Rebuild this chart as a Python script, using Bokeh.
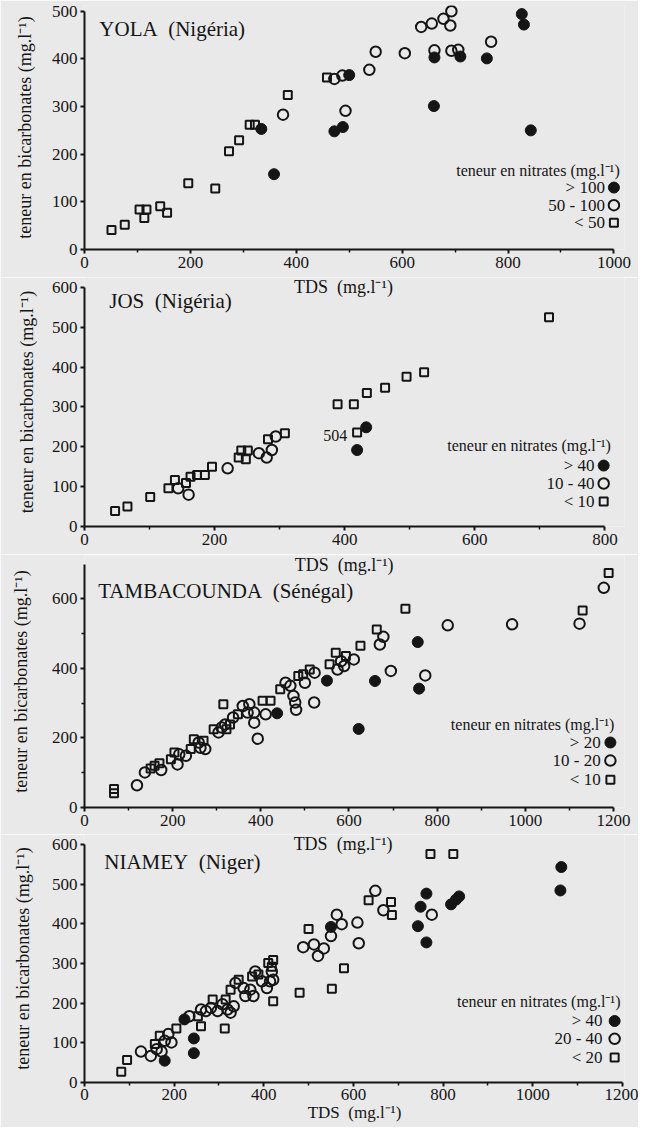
from bokeh.plotting import figure
from bokeh.layouts import column
from bokeh.models import Range1d, FixedTicker, Label
from bokeh.embed import file_html
from bokeh.resources import INLINE

FONT = "Liberation Serif"
BG = "#e9e9e9"
INK = "#151515"

# ---------------- DATA ----------------
# YOLA (Nigeria) : TDS (x) vs bicarbonates (y), by nitrate class
yola_hi_x = [334, 358, 472, 488, 500, 660, 661, 710, 760, 826, 830, 843]
yola_hi_y = [253, 158, 248, 257, 366, 301, 403, 405, 401, 494, 472, 250]
yola_mid_x = [375, 472, 487, 493, 538, 550, 605, 636, 656, 678, 693, 691, 661, 693, 706, 768]
yola_mid_y = [283, 358, 365, 291, 377, 415, 412, 467, 474, 484, 500, 470, 418, 417, 419, 436]
yola_lo_x = [51, 76, 104, 113, 117, 143, 156, 196, 247, 273, 292, 312, 322, 384, 458]
yola_lo_y = [41, 52, 84, 66, 84, 91, 77, 139, 128, 206, 229, 262, 262, 324, 361]
yola_classes = ["> 100", "50 - 100", "< 50"]

# JOS (Nigeria)
jos_hi_x = [419, 433]
jos_hi_y = [192, 249]
jos_mid_x = [144, 160, 220, 268, 280, 288, 294]
jos_mid_y = [96, 80, 146, 184, 173, 192, 226]
jos_lo_x = [47, 66, 101, 129, 139, 156, 163, 173, 185, 196, 241, 251, 237, 248, 282, 308,
            389, 414, 434, 462, 495, 522, 714, 419]
jos_lo_y = [39, 50, 74, 96, 117, 109, 125, 129, 129, 150, 191, 191, 173, 169, 219, 234,
            307, 307, 335, 348, 376, 387, 525, 236]
jos_classes = ["> 40", "10 - 40", "< 10"]
jos_note = "504"

# TAMBACOUNDA (Senegal)
tamba_hi_x = [437, 550, 622, 659, 756, 759]
tamba_hi_y = [271, 365, 226, 364, 476, 342]
tamba_mid_x = [119, 137, 174, 215, 211, 230, 259, 274, 263, 304, 319, 311, 337, 359, 374, 370,
               385, 385, 393, 411, 456, 467, 474, 500, 522, 478, 480, 521, 582, 574, 589, 611,
               678, 670, 695, 773, 824, 970, 1123, 1178]
tamba_mid_y = [64, 101, 108, 153, 124, 149, 187, 168, 172, 216, 239, 230, 259, 292, 297, 273,
               273, 244, 198, 268, 359, 350, 321, 359, 388, 302, 281, 302, 421, 397, 407, 426,
               491, 469, 393, 380, 524, 527, 529, 632]
tamba_lo_x = [67, 67, 150, 159, 170, 196, 204, 241, 248, 270, 293, 322, 330, 315, 404, 422,
              348, 444, 485, 496, 511, 556, 570, 626, 663, 728, 1130, 1189, 593]
tamba_lo_y = [41, 53, 112, 120, 127, 139, 158, 168, 196, 192, 225, 225, 239, 297, 307, 307,
              268, 340, 378, 383, 397, 412, 445, 465, 512, 572, 567, 675, 436]
tamba_classes = ["> 20", "10 - 20", "< 10"]

# NIAMEY (Niger)
niamey_hi_x = [179, 223, 244, 244, 550, 744, 750, 763, 763, 818, 829, 836, 1062, 1064]
niamey_hi_y = [55, 159, 111, 74, 392, 394, 443, 476, 353, 449, 461, 469, 484, 543]
niamey_mid_x = [126, 148, 161, 172, 179, 187, 194, 234, 260, 271, 282, 297, 308, 319, 326, 333,
                337, 355, 359, 370, 377, 381, 396, 407, 414, 418, 421, 488, 512, 534, 521, 550,
                563, 574, 609, 612, 649, 667, 775]
niamey_mid_y = [78, 67, 84, 78, 105, 122, 101, 167, 184, 180, 188, 180, 197, 184, 176, 192,
                251, 238, 218, 234, 218, 280, 255, 238, 255, 280, 259, 341, 348, 338, 319, 369,
                423, 399, 403, 351, 483, 434, 423]
niamey_lo_x = [82, 95, 157, 168, 205, 260, 253, 315, 313, 326, 344, 374, 388, 410, 418, 421,
               421, 480, 552, 579, 500, 634, 684, 686, 772, 823, 286]
niamey_lo_y = [27, 57, 97, 118, 136, 142, 167, 209, 136, 234, 259, 267, 272, 301, 292, 205,
               309, 226, 236, 288, 387, 459, 455, 422, 576, 576, 209]
niamey_classes = ["> 40", "20 - 40", "< 20"]

NB = "\u00a0"
titles = ["YOLA" + NB + NB + "(Nigéria)", "JOS" + NB + NB + "(Nigéria)",
          "TAMBACOUNDA" + NB + NB + "(Sénégal)", "NIAMEY" + NB + NB + "(Niger)"]
x_title = "TDS" + NB + NB + "(mg.l⁻¹)"
y_title = "teneur en bicarbonates (mg.l⁻¹)"
legend_title = "teneur en nitrates (mg.l⁻¹)"

yola_xticks = [0, 200, 400, 600, 800, 1000]
yola_yticks = [0, 100, 200, 300, 400, 500]
jos_xticks = [0, 200, 400, 600, 800]
jos_yticks = [0, 100, 200, 300, 400, 500, 600]
tamba_xticks = [0, 200, 400, 600, 800, 1000, 1200]
tamba_yticks = [0, 200, 400, 600]
niamey_xticks = [0, 200, 400, 600, 800, 1000, 1200]
niamey_yticks = [0, 100, 200, 300, 400, 500, 600]


def lbl(p, x, y, text, size, align="left", baseline="middle"):
    p.add_layout(Label(x=x, y=y, text=text, text_font=FONT, text_font_size=size,
                       text_color=INK, text_align=align, text_baseline=baseline))


def make_panel(height, borders, xr, yr, xb, yb, xticks, xminor, yticks, yminor, ystand):
    p = figure(width=638, height=height, x_range=Range1d(*xr), y_range=Range1d(*yr),
               output_backend="svg", toolbar_location=None, tools="")
    p.min_border_left, p.min_border_right, p.min_border_top, p.min_border_bottom = borders
    p.background_fill_color = BG
    p.border_fill_color = BG
    p.outline_line_color = None
    p.grid.visible = False
    for ax, b, t, m in ((p.xaxis[0], xb, xticks, xminor), (p.yaxis[0], yb, yticks, yminor)):
        ax.bounds = b
        ax.ticker = FixedTicker(ticks=t, minor_ticks=m)
        ax.axis_line_width = 2
        ax.axis_line_color = INK
        ax.major_tick_line_width = 2
        ax.major_tick_line_color = INK
        ax.minor_tick_line_width = 1.5
        ax.minor_tick_line_color = INK
        ax.major_tick_out = 4
        ax.major_tick_in = 0
        ax.minor_tick_out = 3
        ax.minor_tick_in = 0
        ax.major_label_text_font = FONT
        ax.major_label_text_font_size = "17px"
        ax.major_label_text_color = INK
        ax.major_label_standoff = 3
        ax.axis_label_text_font = FONT
        ax.axis_label_text_font_style = "normal"
        ax.axis_label_text_color = INK
    p.yaxis.axis_label = y_title
    p.yaxis.axis_label_text_font_size = "18px"
    p.yaxis.axis_label_standoff = ystand
    return p


def draw(p, hx, hy, mx, my, lx, ly):
    p.scatter(lx, ly, marker="square", size=8, fill_color=None, line_color=INK, line_width=2)
    p.scatter(mx, my, marker="circle", size=10.5, fill_color=None, line_color=INK, line_width=2)
    p.scatter(hx, hy, marker="circle", size=11, fill_color=INK, line_color=INK, line_width=1)


def legend(p, tx, ty, lab_x, mk_x, ys, classes):
    lbl(p, tx, ty, legend_title, "16px", align="right")
    for yv, c in zip(ys, classes):
        lbl(p, lab_x, yv, c, "17px", align="right")
    p.scatter([mk_x], [ys[0]], marker="circle", size=11, fill_color=INK, line_color=INK)
    p.scatter([mk_x], [ys[1]], marker="circle", size=10.5, fill_color=None, line_color=INK, line_width=2)
    p.scatter([mk_x], [ys[2]], marker="square", size=8, fill_color=None, line_color=INK, line_width=2)


# ---- panel 1 : YOLA
p1 = make_panel(277, (73, 14, 5, 28), (0, 1020), (0, 512), (0, 1000), (0, 500),
                yola_xticks, [100, 300, 500, 700, 900], yola_yticks, [], 14)
draw(p1, yola_hi_x, yola_hi_y, yola_mid_x, yola_mid_y, yola_lo_x, yola_lo_y)
lbl(p1, 28, 462, titles[0], "21px")
legend(p1, 1011, 165, 983, 1000, [130, 93, 56], yola_classes)

# ---- panel 2 : JOS
p2 = make_panel(277, (75, 3, 0, 28), (0, 830), (0, 625), (0, 800), (0, 600),
                jos_xticks, [100, 300, 500, 700], jos_yticks, [], 12)
draw(p2, jos_hi_x, jos_hi_y, jos_mid_x, jos_mid_y, jos_lo_x, jos_lo_y)
lbl(p2, 398, 600, x_title, "18px", align="center")
lbl(p2, 38, 565, titles[1], "21px")
lbl(p2, 404, 228, jos_note, "16px", align="right")
legend(p2, 809, 204, 784, 798, [153, 108, 63], jos_classes)

# ---- panel 3 : TAMBACOUNDA
p3 = make_panel(280, (80, 7, 1, 27), (0, 1225), (0, 725), (0, 1200), (0, 700),
                tamba_xticks, [100, 300, 500, 700, 900, 1100], tamba_yticks, [100, 300, 500], 18)
draw(p3, tamba_hi_x, tamba_hi_y, tamba_mid_x, tamba_mid_y, tamba_lo_x, tamba_lo_y)
lbl(p3, 589, 699, x_title, "18px", align="center")
lbl(p3, 31, 623, titles[2], "21px")
legend(p3, 1202, 239, 1171, 1193, [187, 135, 80], tamba_classes)

# ---- panel 4 : NIAMEY
p4 = make_panel(293, (84, 7, 0, 45), (0, 1205), (0, 625), (0, 1200), (0, 600),
                niamey_xticks, [100, 300, 500, 700, 900, 1100], niamey_yticks, [], 16)
draw(p4, niamey_hi_x, niamey_hi_y, niamey_mid_x, niamey_mid_y, niamey_lo_x, niamey_lo_y)
lbl(p4, 577, 600, x_title, "18px", align="center")
lbl(p4, 44, 555, titles[3], "21px")
legend(p4, 1196, 205, 1156, 1183, [155, 110, 63], niamey_classes)
p4.xaxis.axis_label = x_title
p4.xaxis.axis_label_text_font_size = "17px"
p4.xaxis.axis_label_standoff = 0
p4.xaxis.major_label_standoff = 2

layout = column(p1, p2, p3, p4, spacing=0)
html = file_html(layout, INLINE)
html = html.replace("<body>", '<body style="background-color:#e9e9e9;">', 1)
open("out.html", "w").write(html)
